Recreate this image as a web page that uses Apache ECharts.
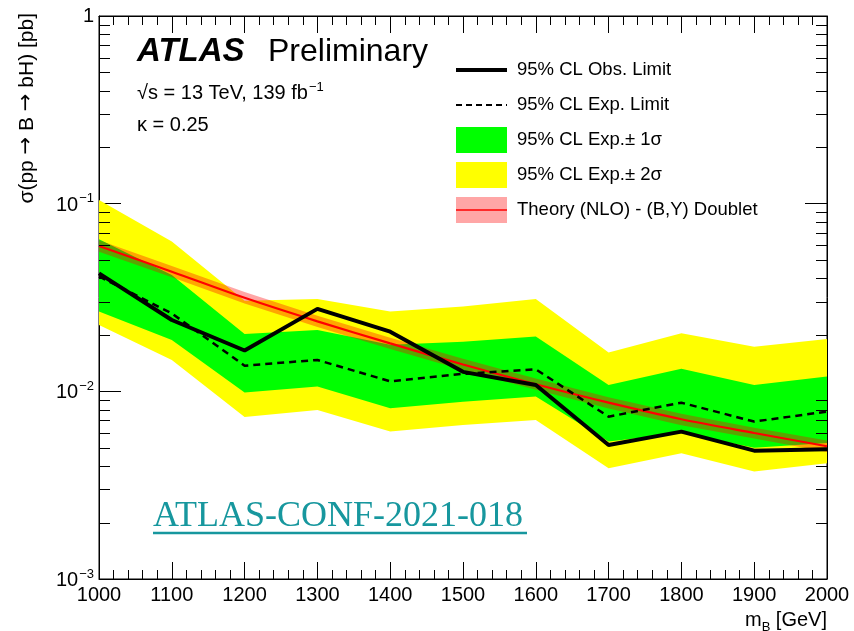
<!DOCTYPE html>
<html>
<head>
<meta charset="utf-8">
<script src="https://cdn.jsdelivr.net/npm/echarts@6/dist/echarts.min.js"></script>
<style>
  html, body { margin: 0; padding: 0; background: #fff; }
  #chart { width: 854px; height: 631px; }
</style>
</head>
<body>
<div id="chart"></div>
<script>
// B-quark mass points [GeV]
const massPoints = [1000, 1100, 1200, 1300, 1400, 1500, 1600, 1700, 1800, 1900, 2000];

// 95% CL upper limits on sigma(pp -> B -> bH) [pb]
const obsLimit = [0.0425, 0.0240, 0.0165, 0.0275, 0.0208, 0.0127, 0.0108, 0.00518, 0.0061, 0.00483, 0.00491];
const expLimit = [0.0410, 0.0260, 0.0137, 0.0147, 0.0113, 0.0124, 0.0131, 0.00733, 0.0087, 0.0069, 0.0078];

// expected +-1 sigma band
const exp1sLow  = [0.0266, 0.0188, 0.00985, 0.0106, 0.00813, 0.0088, 0.0094, 0.0054, 0.0060, 0.0050, 0.0053];
const exp1sHigh = [0.0646, 0.0417, 0.0202, 0.0212, 0.0177, 0.0184, 0.0196, 0.0108, 0.0132, 0.0108, 0.0120];

// expected +-2 sigma band
const exp2sLow  = [0.0226, 0.0147, 0.0073, 0.00796, 0.0061, 0.00662, 0.00704, 0.00389, 0.00468, 0.00374, 0.00414];
const exp2sHigh = [0.1047, 0.0628, 0.0304, 0.0310, 0.0266, 0.0283, 0.0310, 0.0161, 0.0204, 0.0173, 0.0190];

// NLO theory cross-section, (B,Y) doublet, with its uncertainty band
const theoryXsec = [0.0595, 0.0434, 0.0315, 0.0236, 0.0180, 0.0139, 0.0109, 0.0087, 0.0071, 0.0060, 0.0051];
const theoryLow  = [0.0555, 0.0405, 0.0294, 0.0220, 0.0168, 0.0130, 0.0102, 0.0081, 0.0066, 0.0056, 0.00475];
const theoryHigh = [0.0638, 0.0465, 0.0338, 0.0253, 0.0193, 0.0149, 0.0117, 0.0093, 0.0076, 0.0064, 0.00547];

// log-axis minor tick positions (2..9 x 10^k)
const yMinorTicks = [0.002, 0.003, 0.004, 0.005, 0.006, 0.007, 0.008, 0.009,
                     0.02, 0.03, 0.04, 0.05, 0.06, 0.07, 0.08, 0.09,
                     0.2, 0.3, 0.4, 0.5, 0.6, 0.7, 0.8, 0.9];

const FONT = '"Liberation Sans", Arial, Helvetica, sans-serif';
const SYM = '"DejaVu Sans", sans-serif';
const SERIF = '"Liberation Serif", "DejaVu Serif", serif';

const chart = echarts.init(document.getElementById('chart'), null, { renderer: 'canvas' });

// filled band between two curves, drawn as one polygon through the axis scales
function bandSeries(name, low, high, color, z) {
  return {
    type: 'custom',
    name: name,
    z: z,
    silent: true,
    clip: true,
    coordinateSystem: 'cartesian2d',
    xAxisIndex: 0,
    yAxisIndex: 0,
    data: massPoints.map((m, i) => [m, low[i], high[i]]),
    encode: { x: 0, y: [1, 2] },
    renderItem: function (params, api) {
      if (params.dataIndex !== 0) return null;
      const upper = massPoints.map((m, i) => api.coord([m, high[i]]));
      const lower = massPoints.map((m, i) => api.coord([m, low[i]])).reverse();
      return {
        type: 'polygon',
        shape: { points: upper.concat(lower) },
        style: { fill: color, stroke: null }
      };
    }
  };
}

const xAxisCommon = {
  type: 'value',
  min: 1000,
  max: 2000,
  interval: 100,
  splitLine: { show: false },
  axisLine: { show: true, onZero: false, lineStyle: { color: '#000', width: 1 } },
  axisTick: { show: true, inside: true, length: 17, lineStyle: { color: '#000', width: 1 } },
  minorTick: { show: true, splitNumber: 5, length: 9, lineStyle: { color: '#000', width: 1 } },
  minorSplitLine: { show: false }
};

const yAxisCommon = {
  type: 'log',
  logBase: 10,
  min: 0.001,
  max: 1,
  splitLine: { show: false },
  axisLine: { show: true, onZero: false, lineStyle: { color: '#000', width: 1 } },
  axisTick: { show: true, inside: true, length: 22, lineStyle: { color: '#000', width: 1 } },
  minorTick: { show: false }
};

function supLabel(v) {
  if (Math.abs(v - 1) < 1e-9) return '{b|1}';
  const e = Math.round(Math.log10(v));
  return '{b|10}{s|\u2212' + (-e) + '}';
}

const option = {
  animation: false,
  backgroundColor: '#fff',
  grid: {
    left: 99, right: 27, top: 16, bottom: 52,
    show: true, borderColor: '#000', borderWidth: 1, backgroundColor: 'transparent'
  },
  xAxis: [
    Object.assign({}, xAxisCommon, {
      position: 'bottom',
      axisLabel: {
        show: true, color: '#000', fontFamily: FONT, fontSize: 20, margin: 6,
        showMinLabel: true, showMaxLabel: true,
        formatter: v => String(v)
      }
    }),
    Object.assign({}, xAxisCommon, {
      position: 'top',
      axisLabel: { show: false }
    })
  ],
  yAxis: [
    Object.assign({}, yAxisCommon, {
      position: 'left',
      axisLabel: {
        show: true, color: '#000', margin: 5,
        showMinLabel: true, showMaxLabel: true,
        formatter: supLabel,
        rich: {
          b: { fontFamily: FONT, fontSize: 20, color: '#000', verticalAlign: 'bottom' },
          s: { fontFamily: FONT, fontSize: 13, color: '#000', verticalAlign: 'bottom', padding: [0, 0, 10, 1] }
        }
      }
    }),
    Object.assign({}, yAxisCommon, {
      position: 'right',
      axisLabel: { show: false }
    })
  ],
  series: [
    bandSeries('95% CL Exp.\u00b1 2\u03c3', exp2sLow, exp2sHigh, '#ffff00', 1),
    bandSeries('95% CL Exp.\u00b1 1\u03c3', exp1sLow, exp1sHigh, '#00ff00', 2),
    bandSeries('Theory band', theoryLow, theoryHigh, 'rgba(255,0,0,0.35)', 3),
    {
      type: 'line', name: 'Theory (NLO) - (B,Y) Doublet', z: 4,
      data: massPoints.map((m, i) => [m, theoryXsec[i]]),
      symbol: 'none', smooth: 0.3, silent: true,
      lineStyle: { color: '#ff0000', width: 2.2 }
    },
    {
      type: 'line', name: '95% CL Exp. Limit', z: 5,
      data: massPoints.map((m, i) => [m, expLimit[i]]),
      symbol: 'none', silent: true,
      lineStyle: { color: '#000', width: 2.5, type: [7, 5] }
    },
    {
      type: 'line', name: '95% CL Obs. Limit', z: 6,
      data: massPoints.map((m, i) => [m, obsLimit[i]]),
      symbol: 'none', silent: true,
      lineStyle: { color: '#000', width: 4 }
    },
    {
      // minor ticks of the logarithmic y axis, on both frame sides
      type: 'custom', name: 'yMinor', z: 10, silent: true, clip: false,
      data: yMinorTicks.map(v => [1000, v]),
      encode: { x: 0, y: 1 },
      renderItem: function (params, api) {
        const v = api.value(1);
        const l = api.coord([1000, v]);
        const r = api.coord([2000, v]);
        const y = Math.round(l[1]) + 0.5;
        return {
          type: 'group',
          children: [
            { type: 'line', shape: { x1: l[0], y1: y, x2: l[0] + 11, y2: y }, style: { stroke: '#000', lineWidth: 1 } },
            { type: 'line', shape: { x1: r[0] - 11, y1: y, x2: r[0], y2: y }, style: { stroke: '#000', lineWidth: 1 } }
          ]
        };
      }
    }
  ],
  graphic: [
    // y-axis title
    {
      type: 'text', x: 27, y: 13, rotation: Math.PI / 2,
      style: {
        text: '{t|\u03c3(pp }{a|\u2192}{t| B }{a|\u2192}{t| bH) [pb]}',
        align: 'right', verticalAlign: 'middle',
        rich: {
          t: { fontFamily: FONT, fontSize: 21, color: '#000' },
          a: { fontFamily: SYM, fontSize: 21, color: '#000' }
        }
      }
    },
    // x-axis title
    {
      type: 'text', right: 27, bottom: -3,
      style: {
        text: '{m|m}{sub|B}{m| [GeV]}',
        rich: {
          m: { fontFamily: FONT, fontSize: 20, color: '#000', verticalAlign: 'bottom' },
          sub: { fontFamily: FONT, fontSize: 13, color: '#000', verticalAlign: 'bottom', padding: [0, 0, -4, 0] }
        }
      }
    },
    // ATLAS label
    {
      type: 'text', x: 137, y: 52,
      style: { text: 'ATLAS', font: 'italic bold 33px ' + FONT, fill: '#000', verticalAlign: 'middle' }
    },
    {
      type: 'text', x: 268, y: 52,
      style: { text: 'Preliminary', font: '32px ' + FONT, fill: '#000', verticalAlign: 'middle' }
    },
    {
      type: 'text', x: 137, y: 92,
      style: {
        text: '{t|\u221as = 13 TeV, 139 fb}{s|\u22121}',
        verticalAlign: 'middle',
        rich: {
          t: { fontFamily: FONT, fontSize: 20, color: '#000', verticalAlign: 'bottom' },
          s: { fontFamily: FONT, fontSize: 13, color: '#000', verticalAlign: 'bottom', padding: [0, 0, 9, 1] }
        }
      }
    },
    {
      type: 'text', x: 137, y: 125,
      style: { text: '\u03ba = 0.25', font: '20px ' + FONT, fill: '#000', verticalAlign: 'middle' }
    },
    // legend
    { type: 'line', shape: { x1: 456, y1: 70, x2: 507, y2: 70 }, style: { stroke: '#000', lineWidth: 4 } },
    { type: 'text', x: 517, y: 70, style: { text: '95% CL Obs. Limit', font: '18.5px ' + FONT, fill: '#000', verticalAlign: 'middle' } },
    { type: 'line', shape: { x1: 456, y1: 105, x2: 507, y2: 105 }, style: { stroke: '#000', lineWidth: 2, lineDash: [6, 4] } },
    { type: 'text', x: 517, y: 105, style: { text: '95% CL Exp. Limit', font: '18.5px ' + FONT, fill: '#000', verticalAlign: 'middle' } },
    { type: 'rect', shape: { x: 456, y: 127, width: 51, height: 26 }, style: { fill: '#00ff00' } },
    { type: 'text', x: 517, y: 140, style: { text: '95% CL Exp.\u00b1 1\u03c3', font: '18.5px ' + FONT, fill: '#000', verticalAlign: 'middle' } },
    { type: 'rect', shape: { x: 456, y: 162, width: 51, height: 26 }, style: { fill: '#ffff00' } },
    { type: 'text', x: 517, y: 175, style: { text: '95% CL Exp.\u00b1 2\u03c3', font: '18.5px ' + FONT, fill: '#000', verticalAlign: 'middle' } },
    { type: 'rect', shape: { x: 456, y: 197, width: 51, height: 26 }, style: { fill: 'rgba(255,0,0,0.35)' } },
    { type: 'line', shape: { x1: 456, y1: 210, x2: 507, y2: 210 }, style: { stroke: '#ff0000', lineWidth: 1.5 } },
    { type: 'text', x: 517, y: 210, style: { text: 'Theory (NLO) - (B,Y) Doublet', font: '18.5px ' + FONT, fill: '#000', verticalAlign: 'middle' } },
    // conference note reference
    {
      type: 'text', x: 153, y: 517,
      style: { text: 'ATLAS-CONF-2021-018', font: '36px ' + SERIF, fill: '#17979e', verticalAlign: 'middle' }
    },
    { type: 'line', shape: { x1: 153, y1: 533, x2: 527, y2: 533 }, style: { stroke: '#17979e', lineWidth: 2.5 } }
  ]
};

chart.setOption(option);
</script>
</body>
</html>
